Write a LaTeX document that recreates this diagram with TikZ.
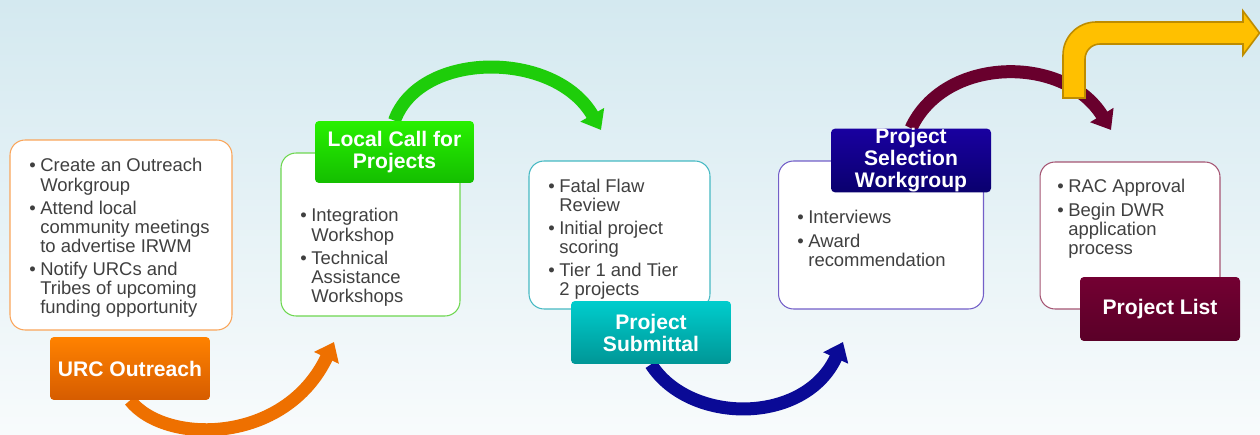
\documentclass[tikz,border=0pt]{standalone}
\usepackage{fontspec}
\setmainfont{Liberation Sans}
\usetikzlibrary{arrows.meta}

\definecolor{skytop}{RGB}{212,233,240}
\definecolor{skybottom}{RGB}{248,251,252}
\definecolor{greytext}{RGB}{64,64,64}
\definecolor{urcedge}{RGB}{250,165,90}
\definecolor{urctop}{RGB}{255,130,0}
\definecolor{urcbottom}{RGB}{214,92,0}
\definecolor{urcarrow}{RGB}{238,112,0}
\definecolor{calledge}{RGB}{110,215,80}
\definecolor{calltop}{RGB}{40,240,0}
\definecolor{callbottom}{RGB}{20,190,0}
\definecolor{callarrow}{RGB}{30,205,10}
\definecolor{subedge}{RGB}{70,185,195}
\definecolor{subtop}{RGB}{0,205,205}
\definecolor{subbottom}{RGB}{0,150,150}
\definecolor{subarrow}{RGB}{10,10,150}
\definecolor{seledge}{RGB}{115,95,200}
\definecolor{seltop}{RGB}{25,0,160}
\definecolor{selbottom}{RGB}{10,0,110}
\definecolor{selarrow}{RGB}{105,0,45}
\definecolor{listedge}{RGB}{165,85,115}
\definecolor{listtop}{RGB}{115,0,50}
\definecolor{listbottom}{RGB}{90,0,40}
\definecolor{goldfill}{RGB}{255,192,0}
\definecolor{goldedge}{RGB}{190,140,0}

\pgfdeclarelayer{sky}
\pgfdeclarelayer{curves}
\pgfsetlayers{sky,curves,main}

\newcommand\bul{\makebox[0.22cm][l]{\textbullet}}
\newcommand\blist[1]{\begin{tabular}[t]{@{}l@{}l@{}}#1\end{tabular}}

\tikzset{
	panel/.style={draw, fill=white, rounded corners=0.3cm, line width=0.6pt},
	banner/.style={rounded corners=0.08cm, text=white, inner sep=0pt, align=center,
		font=\bfseries\fontsize{12}{12.5}\selectfont, minimum width=3.2cm, minimum height=1.26cm},
	bullets/.style={text=greytext, inner sep=0pt, anchor=base west,
		font=\fontsize{10.5}{10.8}\selectfont},
	flow/.style={line width=7.4pt, -{Triangle[width=15pt,length=10pt]}}
}

\begin{document}
\begin{tikzpicture}[x=0.02cm, y=-0.02cm]
		%%%%% START %%%%%
		
		\useasboundingbox (0,0) rectangle (1260,435);
		\begin{pgfonlayer}{sky}
			\shade[top color=skytop, bottom color=skybottom] (0,0) rectangle (1260,435);
		\end{pgfonlayer}
		
		\node[panel, draw=urcedge, minimum width=4.44cm, minimum height=3.8cm] (urcbox) at (121,235) {};
		\node[banner, top color=urctop, bottom color=urcbottom] (urchead) at (130,368.5) {URC Outreach};
		\node[bullets] (urclist) at (29,172) {\blist{\bul & Create an Outreach\\ & Workgroup\\[2.3pt]
			\bul & Attend local\\ & community meetings\\ & to advertise IRWM\\[2.3pt]
			\bul & Notify URCs and\\ & Tribes of upcoming\\ & funding opportunity}};
		
		\node[panel, draw=calledge, minimum width=3.58cm, minimum height=3.26cm] (callbox) at (370.5,234.5) {};
		\node[banner, top color=calltop, bottom color=callbottom, minimum width=3.18cm, minimum height=1.24cm] (callhead) at (394.5,152) {Local Call for\\Projects};
		\node[bullets] (calllist) at (300,222) {\blist{\bul & Integration\\ & Workshop\\[2.3pt]
			\bul & Technical\\ & Assistance\\ & Workshops}};
		
		\node[panel, draw=subedge, minimum width=3.62cm, minimum height=2.96cm] (submitbox) at (619.5,235) {};
		\node[banner, top color=subtop, bottom color=subbottom] (submithead) at (651,332.5) {Project\\Submittal};
		\node[bullets] (submitlist) at (548,192.5) {\blist{\bul & Fatal Flaw\\ & Review\\[2.3pt]
			\bul & Initial project\\ & scoring\\[2.3pt]
			\bul & Tier 1 and Tier\\ & 2 projects}};
		
		\node[panel, draw=seledge, minimum width=4.1cm, minimum height=2.96cm] (selectbox) at (881,235) {};
		\node[banner, top color=seltop, bottom color=selbottom] (selecthead) at (911,160.5) {Project\\Selection\\Workgroup};
		\node[bullets] (selectlist) at (797,224) {\blist{\bul & Interviews\\[2.3pt]
			\bul & Award\\ & recommendation}};
		
		\node[panel, draw=listedge, minimum width=3.6cm, minimum height=2.94cm] (finalbox) at (1130,235.5) {};
		\node[banner, top color=listtop, bottom color=listbottom, minimum height=1.28cm] (finalhead) at (1160,309) {Project List};
		\node[bullets] (finallist) at (1057,193) {\blist{\bul & RAC Approval\\[2.3pt]
			\bul & Begin DWR\\ & application\\ & process}};
		
		% curved arrows go under the banners
		\coordinate (urcend) at (334,342);
		\coordinate (callend) at (601,130);
		\coordinate (subend) at (843,342);
		\coordinate (selend) at (1111,130);
		\begin{pgfonlayer}{curves}
			\draw[flow, draw=urcarrow] (urchead.south) .. controls (165,445) and (285,445) .. (urcend);
			\draw[flow, draw=callarrow] (callhead.north) .. controls (420,50) and (555,50) .. (callend);
			\draw[flow, draw=subarrow] (submithead.south) .. controls (690,425) and (805,425) .. (subend);
			\draw[flow, draw=selarrow] (selecthead.north) .. controls (945,55) and (1065,55) .. (selend);
		\end{pgfonlayer}
		
		% bent arrow, top right
		\draw[line width=0.9pt, draw=goldedge, fill=goldfill] (1063,98) -- (1063,55)
			.. controls (1063,36.8) and (1077.8,22) .. (1096,22) -- (1243,22) -- (1243,11)
			-- (1259.5,33) -- (1243,55) -- (1243,44) -- (1100,44)
			.. controls (1091.7,44) and (1085,50.7) .. (1085,59) -- (1085,98) -- cycle;
		
		%%%%% END %%%%%
\end{tikzpicture}
\end{document}
